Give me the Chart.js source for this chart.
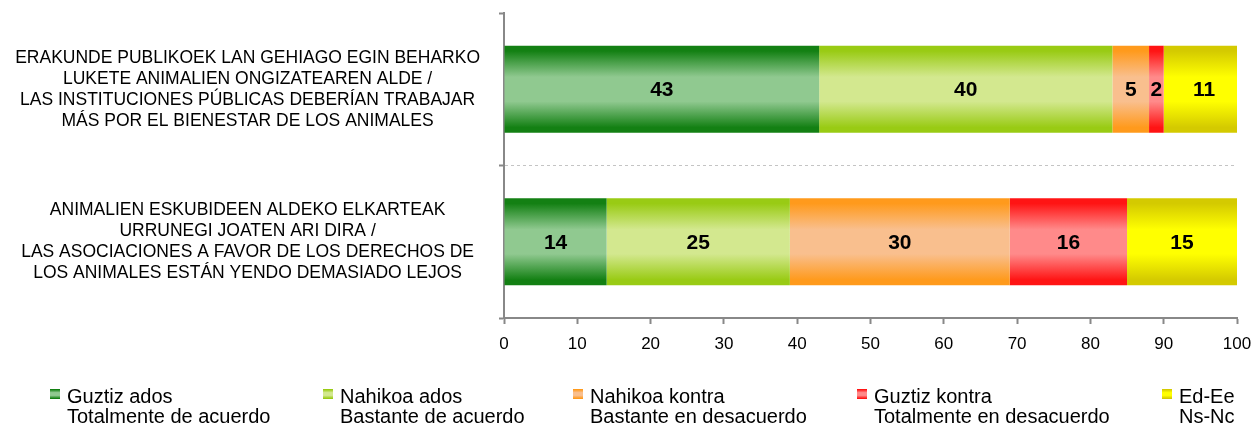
<!DOCTYPE html>
<html>
<head>
<meta charset="utf-8">
<script src="https://cdn.jsdelivr.net/npm/chart.js@4/dist/chart.umd.min.js"></script>
<style>
  html, body { margin: 0; padding: 0; background: #ffffff; }
  canvas { display: block; }
</style>
</head>
<body>
<canvas id="chart" width="1255" height="427"></canvas>
<script>
// Survey statements (each one a multi-line axis label)
const categories = [
  ['ERAKUNDE PUBLIKOEK LAN GEHIAGO EGIN BEHARKO',
   'LUKETE ANIMALIEN ONGIZATEAREN ALDE /',
   'LAS INSTITUCIONES PÚBLICAS DEBERÍAN TRABAJAR',
   'MÁS POR EL BIENESTAR DE LOS ANIMALES'],
  ['ANIMALIEN ESKUBIDEEN ALDEKO ELKARTEAK',
   'URRUNEGI JOATEN ARI DIRA /',
   'LAS ASOCIACIONES A FAVOR DE LOS DERECHOS DE',
   'LOS ANIMALES ESTÁN YENDO DEMASIADO LEJOS']
];

// Answer options (Basque / Spanish)
const seriesNames = [
  ['Guztiz ados', 'Totalmente de acuerdo'],
  ['Nahikoa ados', 'Bastante de acuerdo'],
  ['Nahikoa kontra', 'Bastante en desacuerdo'],
  ['Guztiz kontra', 'Totalmente en desacuerdo'],
  ['Ed-Ee', 'Ns-Nc']
];

// Percentages per statement
const guztizAdos    = [43, 14];
const nahikoaAdos   = [40, 25];
const nahikoaKontra = [5, 30];
const guztizKontra  = [2, 16];
const edEe          = [11, 15];

const xTickValues = [0, 10, 20, 30, 40, 50, 60, 70, 80, 90, 100];

// ---- styling ----
const FONT = '"Liberation Sans", Arial, Helvetica, sans-serif';
const BAR_PCT = 0.57;
// [edge colour, centre colour] of each bar's vertical shading
const shades = [
  ['#138013', '#90c990'],
  ['#99cb14', '#d3e88f'],
  ['#ff9a1c', '#f9bf8e'],
  ['#ff1414', '#ff8a8a'],
  ['#d4ca00', '#ffff00']
];

function shadeGradient(ctx2d, top, bottom, pair) {
  const g = ctx2d.createLinearGradient(0, top, 0, bottom);
  g.addColorStop(0, pair[0]);
  g.addColorStop(0.06, pair[0]);
  g.addColorStop(0.36, pair[1]);
  g.addColorStop(0.64, pair[1]);
  g.addColorStop(0.94, pair[0]);
  g.addColorStop(1, pair[0]);
  return g;
}

function barFill(pair) {
  return (c) => {
    const chart = c.chart;
    const yScale = chart.scales.y;
    if (!chart.chartArea || !yScale || c.type !== 'data') return pair[1];
    const center = yScale.getPixelForValue(c.dataIndex);
    const half = (yScale.height / chart.data.labels.length) * BAR_PCT / 2;
    return shadeGradient(chart.ctx, center - half, center + half, pair);
  };
}

const seriesValues = [guztizAdos, nahikoaAdos, nahikoaKontra, guztizKontra, edEe];

const datasets = seriesValues.map((vals, i) => ({
  label: seriesNames[i],
  data: vals,
  backgroundColor: barFill(shades[i]),
  borderWidth: 0,
  barPercentage: BAR_PCT,
  categoryPercentage: 1.0
}));

// Value text centred in every segment
const valueLabels = {
  id: 'valueLabels',
  afterDatasetsDraw(chart) {
    const ctx = chart.ctx;
    ctx.save();
    ctx.font = 'bold 21px ' + FONT;
    ctx.fillStyle = '#000000';
    ctx.textAlign = 'center';
    ctx.textBaseline = 'middle';
    chart.data.datasets.forEach((ds, di) => {
      const meta = chart.getDatasetMeta(di);
      meta.data.forEach((bar, i) => {
        const cx = (bar.x + bar.base) / 2;
        ctx.fillText(String(ds.data[i]), cx, bar.y + 1);
      });
    });
    ctx.restore();
  }
};

// Two-line legend along the bottom
const bottomLegend = {
  id: 'bottomLegend',
  afterDraw(chart) {
    const ctx = chart.ctx;
    const xs = [50, 323, 573, 857, 1162];
    const base1 = 403, base2 = 423;
    ctx.save();
    ctx.font = '20px ' + FONT;
    ctx.textAlign = 'left';
    ctx.textBaseline = 'alphabetic';
    chart.data.datasets.forEach((ds, i) => {
      const x = xs[i];
      ctx.fillStyle = shadeGradient(ctx, 389, 399, shades[i]);
      ctx.fillRect(x, 389, 10, 10);
      ctx.fillStyle = '#000000';
      ctx.fillText(ds.label[0], x + 17, base1);
      ctx.fillText(ds.label[1], x + 17, base2);
    });
    ctx.restore();
  }
};

new Chart(document.getElementById('chart'), {
  type: 'bar',
  data: { labels: categories, datasets },
  plugins: [valueLabels, bottomLegend],
  options: {
    indexAxis: 'y',
    responsive: false,
    animation: false,
    devicePixelRatio: 1,
    layout: { padding: { top: 13, right: 18, left: 0, bottom: 0 } },
    plugins: {
      legend: { display: false },
      tooltip: { enabled: false }
    },
    scales: {
      x: {
        stacked: true,
        min: 0,
        max: 100,
        afterBuildTicks: (s) => { s.ticks = xTickValues.map(v => ({ value: v })); },
        afterFit: (s) => { s.height = 109; s.paddingLeft = 0; s.paddingRight = 0; },
        border: { color: '#888888', width: 2 },
        grid: {
          drawOnChartArea: false,
          drawTicks: true,
          tickLength: 6,
          tickColor: '#888888',
          tickWidth: 2
        },
        ticks: {
          color: '#000000',
          font: { family: FONT, size: 17 },
          padding: 10,
          maxRotation: 0,
          autoSkip: false
        }
      },
      y: {
        stacked: true,
        afterFit: (s) => { s.width = 504; s.paddingTop = 0; s.paddingBottom = 0; },
        border: {
          color: '#888888',
          width: 2,
          dash: [3, 3]
        },
        grid: {
          offset: true,
          color: (c) => (c.index === 1 ? '#c4c4c4' : 'rgba(0,0,0,0)'),
          lineWidth: 1,
          drawTicks: true,
          tickLength: 5,
          tickColor: '#888888',
          tickWidth: 2,
          tickBorderDash: []
        },
        ticks: {
          color: '#000000',
          crossAlign: 'center',
          padding: 19,
          font: { family: FONT, size: 17.5, lineHeight: 1.2 }
        }
      }
    }
  }
});
</script>
</body>
</html>
